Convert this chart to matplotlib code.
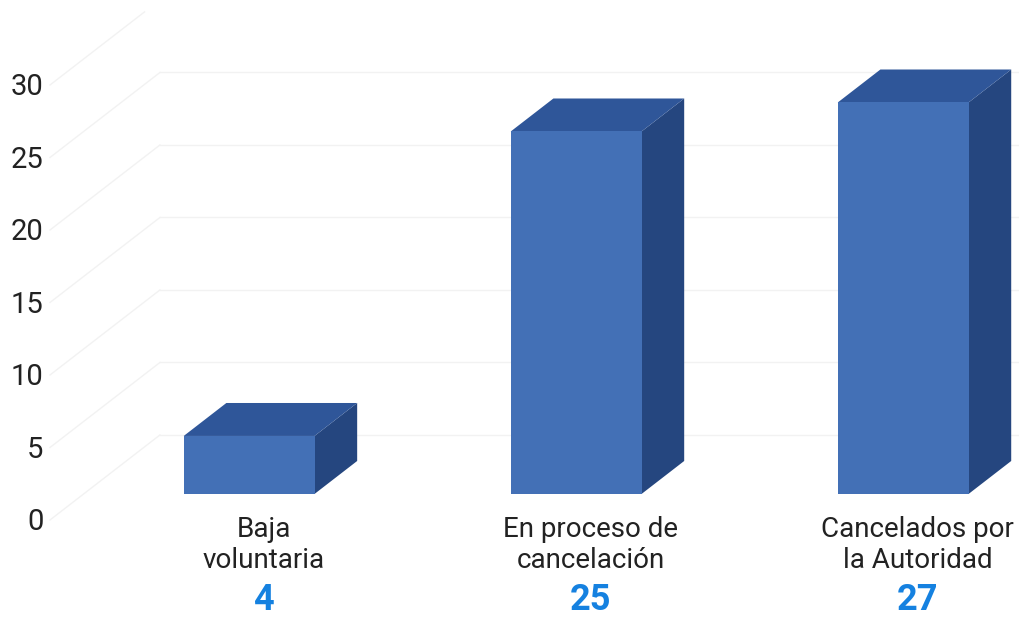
import matplotlib.pyplot as plt
from matplotlib.patches import Polygon

categories = ['Baja\nvoluntaria', 'En proceso de\ncancelación', 'Cancelados por\nla Autoridad']
values = [4, 25, 27]
yticks = [0, 5, 10, 15, 20, 25, 30]

# fake 3D: depth offset of the whole floor, in data units
DX, DY = 0.336, 5.86
D_FRONT, D_BACK = 0.306, 0.694
HALF_W = 0.2

c_front = '#4370B6'
c_top = '#2F5699'
c_side = '#25467F'
c_grid = '#F2F2F2'


def proj(x, v, d):
    return (x + d * DX, v + d * DY)


fig = plt.figure(figsize=(10.19, 6.2), dpi=100)
ax = fig.add_axes([0, 0, 1, 1])
ax.set_xlim(-0.659, 2.457)
ax.set_ylim(-6.9, 35.86)
ax.axis('off')

# side wall diagonals + back wall gridlines
wall_x = -0.506
for t in yticks:
    p0 = proj(wall_x, t, 0)
    if t == yticks[-1]:
        # top edge of the wall is cut by the plot area
        p1 = proj(wall_x, t, 0.86)
        ax.plot([p0[0], p1[0]], [p0[1], p1[1]], color=c_grid, lw=1, zorder=1)
    else:
        p1 = proj(wall_x, t, 1)
        ax.plot([p0[0], p1[0]], [p0[1], p1[1]], color=c_grid, lw=1, zorder=1)
        ax.plot([p1[0], 2.6], [p1[1], p1[1]], color=c_grid, lw=1, zorder=1)
    ax.text(wall_x - 0.02, t - 0.15, str(t), ha='right', va='center',
            fontsize=21, family='Roboto', color='#222222')

for i, v in enumerate(values):
    l, r = i - HALF_W, i + HALF_W
    front = [proj(l, 0, D_FRONT), proj(r, 0, D_FRONT), proj(r, v, D_FRONT), proj(l, v, D_FRONT)]
    top = [proj(l, v, D_FRONT), proj(r, v, D_FRONT), proj(r, v, D_BACK), proj(l, v, D_BACK)]
    side = [proj(r, 0, D_FRONT), proj(r, 0, D_BACK), proj(r, v, D_BACK), proj(r, v, D_FRONT)]
    ax.add_patch(Polygon(side, closed=True, fc=c_side, ec='none', zorder=3))
    ax.add_patch(Polygon(top, closed=True, fc=c_top, ec='none', zorder=3))
    ax.add_patch(Polygon(front, closed=True, fc=c_front, ec='none', zorder=4))

    cx = i + D_FRONT * DX + 0.045
    ax.text(cx, -1.75, categories[i], ha='center', va='center', fontsize=20,
            family='Roboto', color='#222222', linespacing=1.2)
    ax.text(cx, -5.5, str(v), ha='center', va='center', fontsize=26,
            family='Roboto', fontweight='bold', color='#1581E0')

fig.savefig('out.png', dpi=100)
